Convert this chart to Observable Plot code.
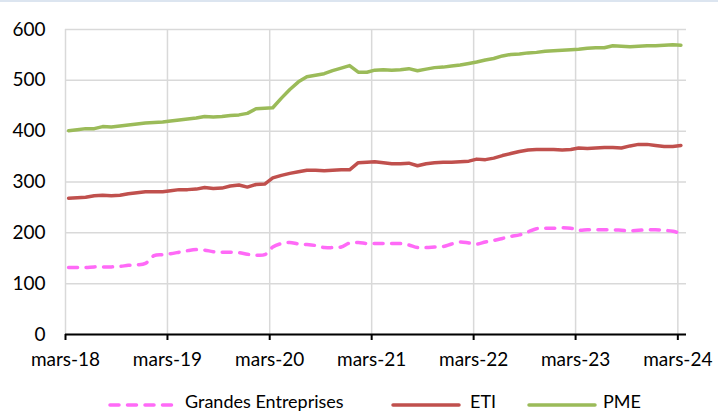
<!DOCTYPE html>
<html>
<head>
<meta charset="utf-8">
<script src="https://cdn.jsdelivr.net/npm/d3@7"></script>
<script src="https://cdn.jsdelivr.net/npm/@observablehq/plot@0.6"></script>
<style>
  html, body { margin: 0; padding: 0; background: #fff; }
  #wrap { width: 718px; height: 410px; border-top: 2px solid #dce5f0; overflow: hidden; font-family: Lato, "Open Sans", sans-serif; }
  #chart svg { display: block; }
  #legend { position: relative; height: 30px; font-size: 18px; color: #000; }
  .item { position: absolute; top: 0; height: 30px; }
  .item svg { position: absolute; top: 21px; left: 0; }
  .item span { position: absolute; top: 11px; white-space: nowrap; line-height: 20px; }
</style>
</head>
<body>
<div id="wrap"><div id="chart"></div><div id="legend"></div></div>
<script>
// Monthly series, March 2018 to March 2024
const startYear = 2018, startMonth = 2;
const grandesEntreprises = [132,132,132,133,133,133,134,136,137,140,155,157,
  159,162,165,167,166,163,162,162,161,158,156,157,
  172,179,181,178,177,175,171,171,172,180,181,179,
  179,179,179,179,176,171,171,172,173,178,182,180,
  178,182,185,189,193,196,202,208,209,209,210,209,
  205,206,206,206,206,205,204,205,206,206,205,203,
  199];
const eti = [268,269,270,273,274,273,274,277,279,281,281,281,
  283,285,285,286,289,287,288,292,294,290,295,296,
  308,313,317,320,323,323,322,323,324,324,338,339,
  340,338,336,336,337,332,336,338,339,339,340,341,
  345,344,347,352,356,360,363,364,364,364,363,364,
  367,366,367,368,368,367,371,374,374,372,370,370,
  372];
const pme = [401,403,405,405,409,408,410,412,414,416,417,418,
  420,422,424,426,429,428,429,431,432,435,444,445,
  446,465,482,497,507,510,513,519,524,529,516,516,
  520,521,520,521,523,519,522,525,526,528,530,533,
  536,540,543,548,551,552,554,555,557,558,559,560,
  561,563,564,564,568,567,566,567,568,568,569,570,
  569];
const seriesNames = ["Grandes Entreprises", "ETI", "PME"];
const seriesColors = ["#ff6af7", "#c0504d", "#9bbb59"];
const yTicks = [0, 100, 200, 300, 400, 500, 600];
const xTickYears = [2018, 2019, 2020, 2021, 2022, 2023, 2024];
const xTickLabels = ["mars-18", "mars-19", "mars-20", "mars-21", "mars-22", "mars-23", "mars-24"];

const monthDate = i => new Date(Date.UTC(startYear, startMonth + i, 12));
const rows = [];
[grandesEntreprises, eti, pme].forEach((vals, s) => {
  vals.forEach((v, i) => rows.push({date: monthDate(i), value: v, series: seriesNames[s]}));
});
const xTickDates = xTickYears.map(y => new Date(Date.UTC(y, 2, 1)));
const labelFor = d => xTickLabels[xTickDates.findIndex(t => +t === +d)];

const chart = Plot.plot({
  width: 718,
  height: 378,
  marginTop: 27,
  marginLeft: 65,
  marginRight: 32,
  marginBottom: 46,
  style: {fontFamily: "Lato, 'Open Sans', sans-serif", fontSize: "19px", color: "#000", background: "#fff"},
  x: {type: "utc", domain: [new Date(Date.UTC(2018, 2, 1)), new Date(Date.UTC(2024, 3, 1))]},
  y: {domain: [0, 600]},
  marks: [
    Plot.gridY(yTicks, {stroke: "#d9d9d9", strokeOpacity: 1, strokeWidth: 1.5}),
    Plot.gridX(xTickDates, {stroke: "#d9d9d9", strokeOpacity: 1, strokeWidth: 1.5}),
    Plot.axisY(yTicks, {tickSize: 0, tickPadding: 20, fontSize: 19, label: null}),
    Plot.axisX(xTickDates, {tickSize: 6, tickPadding: 12, fontSize: 19, label: null, tickFormat: labelFor, stroke: "#000", strokeWidth: 2}),
    Plot.ruleY([0], {stroke: "#000", strokeWidth: 2}),
    Plot.line(rows.filter(d => d.series === seriesNames[0]), {x: "date", y: "value", stroke: seriesColors[0], strokeWidth: 3.5, strokeDasharray: "9,8.5", strokeLinecap: "round", curve: "catmull-rom"}),
    Plot.line(rows.filter(d => d.series === seriesNames[1]), {x: "date", y: "value", stroke: seriesColors[1], strokeWidth: 3.5, strokeLinejoin: "round", strokeLinecap: "round"}),
    Plot.line(rows.filter(d => d.series === seriesNames[2]), {x: "date", y: "value", stroke: seriesColors[2], strokeWidth: 3.5, strokeLinejoin: "round", strokeLinecap: "round"})
  ]
});
document.getElementById("chart").appendChild(chart);

// Legend
const legendPos = [{line: 108, text: 185}, {line: 391, text: 470}, {line: 527, text: 603}];
const legend = document.getElementById("legend");
seriesNames.forEach((name, i) => {
  const item = document.createElement("div");
  item.className = "item";
  item.style.left = legendPos[i].line + "px";
  const w = 70;
  const dash = i === 0 ? 'stroke-dasharray="9,8.5"' : "";
  item.innerHTML = `<svg width="${w}" height="8"><line x1="2" y1="4" x2="${w - 2}" y2="4" stroke="${seriesColors[i]}" stroke-width="3.5" stroke-linecap="round" ${dash}/></svg><span style="left:${legendPos[i].text - legendPos[i].line}px">${name}</span>`;
  legend.appendChild(item);
});
</script>
</body>
</html>
